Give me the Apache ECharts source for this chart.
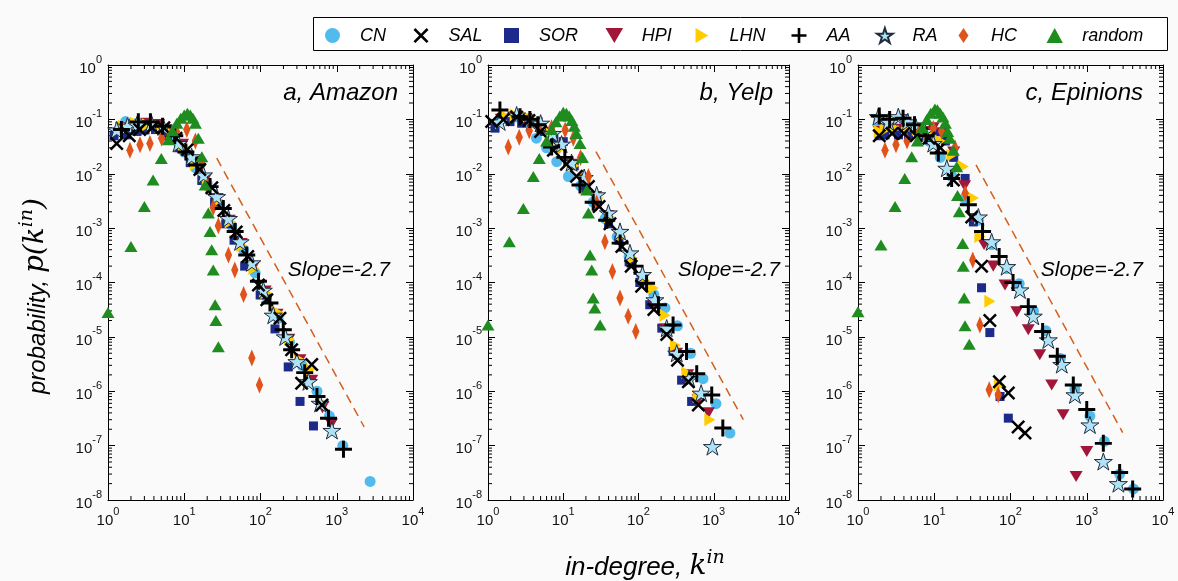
<!DOCTYPE html>
<html>
<head>
<meta charset="utf-8">
<script src="https://cdn.jsdelivr.net/npm/echarts@6/dist/echarts.min.js"></script>
<style>
  html, body { margin: 0; padding: 0; background: #fafafa; }
  #chart { width: 1178px; height: 581px; }
</style>
</head>
<body>
<div id="chart"></div>
<script>
// ---- data: [in-degree, probability] ----
const amazonCN = [[1.7,0.091],[2.4,0.085],[3.5,0.08],[5,0.07],[7,0.045],[10,0.025],[14,0.013],[20,0.0065],[29,0.0028],[42,1.1e-3],[60,4e-4],[85,1.5e-4],[120,5.5e-5],[170,2.2e-5],[240,8e-6],[350,3e-6],[550,1e-6],[800,3.5e-7],[1200,1e-7],[2740,2.2e-8]];
const amazonSAL = [[1.3,0.036],[1.9,0.05],[2.6,0.065],[3.8,0.07],[5.4,0.07],[7.8,0.045],[11,0.028],[16,0.012],[23,0.0055],[33,2.1e-3],[48,8.5e-4],[68,3e-4],[94,9e-5],[121,4.8e-5],[180,2.2e-5],[256,5.8e-6],[346,1.4e-6],[470,3.1e-6],[640,5.6e-7]];
const amazonSOR = [[1.2,0.05],[1.76,0.052],[2.4,0.06],[3.06,0.064],[4.2,0.065],[6,0.05],[8.5,0.03],[12,0.016],[17,0.0075],[25,0.003],[35,1.2e-3],[45,6e-4],[62,2e-4],[99,5.9e-5],[155,1.4e-5],[231,2.8e-6],[330,6.5e-7],[495,2.3e-7]];
const amazonHPI = [[1.5,0.07],[2.2,0.08],[3.2,0.085],[4.6,0.08],[6.6,0.06],[9.5,0.035],[13.5,0.017],[19,0.008],[27,0.0035],[39,1.4e-3],[56,5.2e-4],[80,1.9e-4],[115,7e-5],[165,2.6e-5],[235,9e-6],[330,3.8e-6],[470,1.6e-6],[650,5e-7],[850,2.5e-7]];
const amazonLHN = [[1.6,0.075],[2.3,0.085],[3.3,0.08],[4.8,0.075],[6.8,0.055],[9.7,0.032],[14,0.015],[20,0.0072],[28,0.0032],[40,1.3e-3],[57,4.8e-4],[82,1.8e-4],[118,6.5e-5],[170,2.8e-5],[240,9e-6],[330,3.8e-6],[450,2.5e-6],[640,6e-7]];
const amazonAA = [[1.5,0.065],[2.5,0.09],[3.6,0.09],[5.2,0.075],[7.5,0.05],[10.5,0.025],[14.6,0.0145],[21.8,0.0058],[32.5,2.3e-3],[46.5,8.7e-4],[66,3.2e-4],[94,1.05e-4],[133,4.2e-5],[199,1.35e-5],[256,5.8e-6],[380,2.2e-6],[550,8e-7],[780,3.2e-7],[1225,8.6e-8]];
const amazonRA = [[1.3,0.064],[1.8,0.075],[2.4,0.079],[3.7,0.085],[5.3,0.073],[8.4,0.036],[12.5,0.0205],[17.9,0.0095],[26.6,0.0038],[38,1.5e-3],[54,5.6e-4],[77,2.3e-4],[109,7.2e-5],[147,2.5e-5],[211,1e-5],[300,3.5e-6],[425,1.5e-6],[605,6e-7],[864,1.9e-7]];
const amazonHC = [[1.94,0.027],[2.63,0.034],[3.55,0.036],[5.05,0.045],[7.9,0.06],[10.8,0.065],[14,0.04],[17,0.017],[20,0.0058],[24,2.4e-3],[28,1.1e-3],[38,3.2e-4],[46,1.7e-4],[60,6e-5],[77,4.1e-6],[97,1.3e-6]];
const amazonRandom = [[1,2.8e-5],[2,4.6e-4],[3,2.5e-3],[3.9,7.7e-3],[5,0.019],[6.2,0.042],[7,0.062],[8,0.085],[9,0.105],[10,0.12],[11,0.13],[12,0.12],[13,0.105],[14,0.085],[15.3,0.045],[17,0.0205],[18.8,6.2e-3],[20.7,1.9e-3],[21.8,8.7e-4],[22.9,4e-4],[24,1.7e-4],[25.4,3.9e-5],[26,2e-5],[28,6.6e-6]];

const yelpCN = [[1.5,0.1],[2.3,0.11],[3.2,0.09],[4.4,0.045],[6,0.03],[8.2,0.0167],[11.7,0.0089],[17,0.006],[25,3e-3],[36,1.5e-3],[52,7e-4],[75,3e-4],[110,1.3e-4],[160,6e-5],[225,3.4e-5],[330,1.6e-5],[494,5e-6],[720,1.7e-6],[1070,5.9e-7],[1640,1.7e-7]];
const yelpSAL = [[1.12,0.091],[1.6,0.1],[2.4,0.11],[3.5,0.095],[5,0.06],[7.4,0.027],[11,0.015],[15,0.009],[21.6,0.0058],[30,2.5e-3],[41.8,1.2e-3],[60,4.6e-4],[80,2e-4],[110,8.5e-5],[160,3.2e-5],[237,1.1e-5],[330,3.7e-6],[460,1.5e-6],[624,5.6e-7]];
const yelpSOR = [[1.24,0.069],[1.96,0.091],[2.8,0.085],[4.6,0.09],[5.6,0.06],[7.5,0.045],[10,0.039],[14,0.014],[20,0.006],[28,0.0028],[40,1.2e-3],[55,6e-4],[75,2.4e-4],[104,1e-4],[141,3.9e-5],[204,1.45e-5],[288,5.4e-6],[374,1.6e-6],[508,6.5e-7]];
const yelpHPI = [[1.5,0.1],[2.2,0.11],[3.1,0.1],[4.4,0.085],[6.3,0.05],[9,0.03],[13,0.015],[19,0.008],[27,3.8e-3],[39,1.7e-3],[55,7.5e-4],[79,3e-4],[113,1.1e-4],[160,4e-5],[230,1.4e-5],[320,5e-6],[450,2e-6],[620,7e-7],[850,4e-7]];
const yelpLHN = [[1.6,0.12],[2.3,0.12],[3.3,0.11],[4.7,0.09],[6.7,0.055],[9.6,0.03],[14,0.014],[20,0.0075],[29,3.6e-3],[41,1.6e-3],[59,7e-4],[84,2.8e-4],[120,1.1e-4],[157,7.9e-5],[225,2.5e-5],[310,7e-6],[440,2.2e-6],[620,8e-7],[888,3e-7]];
const yelpAA = [[1.44,0.149],[2.66,0.112],[3.6,0.1],[4.6,0.08],[7,0.031],[10.5,0.02],[16.7,6.2e-3],[25,3e-3],[37.8,1.4e-3],[57,5.3e-4],[90,2e-4],[128,9.7e-5],[184,3.9e-5],[288,1.66e-5],[435,5.4e-6],[594,2.1e-6],[940,8.5e-7],[1320,2.1e-7]];
const yelpRA = [[1.43,0.09],[2.4,0.12],[3.8,0.09],[5,0.085],[7.2,0.055],[9.5,0.035],[12.9,0.016],[19,0.0085],[27.8,4.1e-3],[39.8,1.9e-3],[56.8,8.7e-4],[77,3.5e-4],[113,1.4e-4],[165,4.8e-5],[237,1.45e-5],[322,5e-6],[471,1.7e-6],[680,9.2e-7],[960,9.6e-8]];
const yelpHC = [[1.86,0.031],[2.6,0.047],[3.54,0.062],[4.66,0.072],[7,0.07],[10.6,0.064],[13.6,0.045],[17,0.02],[21.6,0.0089],[27.8,2.9e-3],[35.8,5.6e-4],[45,1.6e-4],[56.8,5.2e-5],[73,2.4e-5],[92,1.25e-5]];
const yelpRandom = [[1,1.66e-5],[1.92,5.6e-4],[2.95,2.3e-3],[4,8.9e-3],[4.8,0.019],[6,0.04],[7,0.065],[8,0.09],[9,0.115],[10,0.135],[11,0.13],[12,0.115],[13,0.095],[14,0.075],[15,0.055],[16.7,0.036],[18,0.02],[20.5,5e-3],[21.6,1.9e-3],[22.7,3.2e-4],[23.9,1.7e-4],[25,5.2e-5],[26.3,3.4e-5],[30.9,1.66e-5]];

const epinionsCN = [[1.85,0.09],[2.8,0.085],[4,0.08],[5.8,0.07],[8.5,0.04],[12,0.02],[17,0.009],[25,3.5e-3],[38,1.4e-3],[57,5e-4],[90,1.8e-4],[130,9.5e-5],[200,3e-5],[290,1.3e-5],[450,4e-6],[700,1.1e-6],[1100,3.5e-7],[1700,1.2e-7],[2700,3e-8],[4100,1.6e-8]];
const epinionsSAL = [[1.9,0.05],[2.8,0.055],[4,0.055],[5.8,0.05],[8.5,0.045],[12,0.03],[17.8,7.7e-3],[31,1.6e-3],[41.7,2e-4],[53.6,2e-5],[71.5,1.5e-6],[93.6,9.3e-7],[126,2.2e-7],[155,1.7e-7]];
const epinionsSOR = [[1.9,0.05],[2.26,0.052],[3.4,0.052],[4.6,0.05],[6.5,0.05],[10.8,0.059],[14,0.04],[18,0.02],[25.4,8.2e-3],[32.6,1.3e-3],[41.7,8e-5],[53.6,1.2e-5],[72.9,8e-7],[93.6,3.2e-7]];
const epinionsHPI = [[1.9,0.06],[2.8,0.065],[4,0.065],[5.8,0.06],[8.5,0.06],[9.7,0.07],[13,0.055],[18,0.025],[25,6e-3],[33,1.5e-3],[45,5e-4],[59.4,2e-4],[84.7,9e-5],[121,2.9e-5],[171,1.35e-5],[242,4.7e-6],[347,1.3e-6],[490,3.7e-7],[725,2.7e-8],[1000,7.8e-8]];
const epinionsLHN = [[1.9,0.06],[2.26,0.064],[3.1,0.069],[4.35,0.069],[6,0.065],[8.5,0.055],[12,0.04],[17,0.022],[24,0.0136],[32.6,3.6e-3],[39.7,7e-4],[53.6,4.5e-5],[71.5,1.3e-6]];
const epinionsAA = [[1.9,0.115],[2.6,0.1],[3.9,0.105],[5.5,0.08],[7.8,0.05],[11.3,0.024],[16.9,0.0082],[28,2.7e-3],[43,8.7e-4],[71,3e-4],[108,1e-4],[171,3.6e-5],[264,1.25e-5],[411,4.4e-6],[666,1.3e-6],[1000,4.6e-7],[1650,1.1e-7],[2700,3.2e-8],[4000,1.6e-8]];
const epinionsRA = [[1.85,0.112],[2.5,0.09],[3.38,0.112],[4.5,0.09],[5.6,0.079],[7.5,0.06],[9.7,0.036],[14.6,0.0126],[37.9,1.6e-3],[56.6,5.6e-4],[89,1.96e-4],[133,7.3e-5],[199,2.4e-5],[313,8.8e-6],[470,3.1e-6],[700,8.6e-7],[1100,2.4e-7],[1650,5.1e-8],[2600,2e-8]];
const epinionsHC = [[2.26,0.027],[3.15,0.034],[4.4,0.04],[6.2,0.055],[9.7,0.068],[12.5,0.06],[18.7,0.03],[25.4,4.4e-3],[32,2.6e-4],[39.7,1.66e-5],[52.6,1.07e-6],[69,8.6e-7]];
const epinionsRandom = [[1,2.9e-5],[2,4.9e-4],[3.06,2.5e-3],[4.1,8.2e-3],[5.06,0.0205],[6,0.04],[7,0.07],[8,0.1],[9,0.13],[10.2,0.155],[11,0.15],[12,0.13],[13,0.11],[14,0.085],[15,0.06],[16,0.045],[17.8,0.027],[19.7,0.0135],[20.2,4e-3],[21.3,2e-3],[23.6,5.2e-4],[24,2e-4],[24.7,5.2e-5],[25.3,1.6e-5],[28.8,7.3e-6]];

// guide lines (slope -2.7), end points
const slopeAmazon = [[26.7,0.0193],[2290,2.2e-7]];
const slopeYelp = [[27.2,0.0256],[2470,3e-7]];
const slopeEpinions = [[35.3,0.0145],[2960,1.74e-7]];

const panelNames = ['a, Amazon', 'b, Yelp', 'c, Epinions'];
const methods = ['CN','SAL','SOR','HPI','LHN','AA','RA','HC','random'];

// minor tick positions of the log axes
const minorX = [2,3,4,5,6,7,8,9,20,30,40,50,60,70,80,90,200,300,400,500,600,700,800,900,2000,3000,4000,5000,6000,7000,8000,9000];
const minorY = [2e-8,3e-8,4e-8,5e-8,6e-8,7e-8,8e-8,9e-8,2e-7,3e-7,4e-7,5e-7,6e-7,7e-7,8e-7,9e-7,2e-6,3e-6,4e-6,5e-6,6e-6,7e-6,8e-6,9e-6,2e-5,3e-5,4e-5,5e-5,6e-5,7e-5,8e-5,9e-5,2e-4,3e-4,4e-4,5e-4,6e-4,7e-4,8e-4,9e-4,0.002,0.003,0.004,0.005,0.006,0.007,0.008,0.009,0.02,0.03,0.04,0.05,0.06,0.07,0.08,0.09,0.2,0.3,0.4,0.5,0.6,0.7,0.8,0.9];

const panels = [
  {CN: amazonCN, SAL: amazonSAL, SOR: amazonSOR, HPI: amazonHPI, LHN: amazonLHN, AA: amazonAA, RA: amazonRA, HC: amazonHC, random: amazonRandom, slope: slopeAmazon},
  {CN: yelpCN, SAL: yelpSAL, SOR: yelpSOR, HPI: yelpHPI, LHN: yelpLHN, AA: yelpAA, RA: yelpRA, HC: yelpHC, random: yelpRandom, slope: slopeYelp},
  {CN: epinionsCN, SAL: epinionsSAL, SOR: epinionsSOR, HPI: epinionsHPI, LHN: epinionsLHN, AA: epinionsAA, RA: epinionsRA, HC: epinionsHC, random: epinionsRandom, slope: slopeEpinions}
];

const FONT = '"Liberation Sans", Arial, Helvetica, sans-serif';
const SERIF = '"DejaVu Serif", "Liberation Serif", serif';

const STAR = 'path://M10,0 L12.245,6.91 L19.51,6.91 L13.63,11.18 L15.88,18.09 L10,13.82 L4.12,18.09 L6.37,11.18 L0.49,6.91 L7.755,6.91 Z';
const CROSS = 'path://M2.5,0 L10,7.5 L17.5,0 L20,2.5 L12.5,10 L20,17.5 L17.5,20 L10,12.5 L2.5,20 L0,17.5 L7.5,10 L0,2.5 Z';
const PLUS = 'path://M8.25,0 H11.75 V8.25 H20 V11.75 H11.75 V20 H8.25 V11.75 H0 V8.25 H8.25 Z';
const SQUARE = 'path://M0,0 H10 V10 H0 Z';
const DIAMOND = 'path://M5,0 L10,7.5 L5,15 L0,7.5 Z';
const TRI_UP = 'path://M6,0 L12,11 L0,11 Z';
const TRI_DOWN = 'path://M0,0 L20,0 L10,17 Z';
const TRI_RIGHT = 'path://M0,0 L17,10 L0,20 Z';

const look = {
  CN:     {symbol: 'circle', symbolSize: 11, itemStyle: {color: '#52bbee', opacity: 1}},
  SAL:    {symbol: CROSS, symbolSize: 14, itemStyle: {color: '#000', opacity: 1}},
  SOR:    {symbol: SQUARE, symbolSize: 9, itemStyle: {color: '#1c2a8c', opacity: 1}},
  HPI:    {symbol: TRI_DOWN, symbolSize: 13, itemStyle: {color: '#a2163a', opacity: 1}},
  LHN:    {symbol: TRI_RIGHT, symbolSize: 13, itemStyle: {color: '#ffcc00', opacity: 1}},
  AA:     {symbol: PLUS, symbolSize: 17, itemStyle: {color: '#000', opacity: 1}},
  RA:     {symbol: STAR, symbolSize: 18, itemStyle: {color: '#aee2f6', borderColor: '#1f2d3d', borderWidth: 1, opacity: 1}},
  HC:     {symbol: DIAMOND, symbolSize: [11, 17], itemStyle: {color: '#e0541c', opacity: 1}},
  random: {symbol: TRI_UP, symbolSize: [13, 12], itemStyle: {color: '#1e8c1e', opacity: 1}}
};
// drawing order (later on top)
const drawOrder = ['CN','SOR','HPI','LHN','RA','HC','SAL','AA','random'];

const grids = [
  {left: 108, top: 65, width: 305, height: 435},
  {left: 488, top: 65, width: 301, height: 435},
  {left: 858, top: 65, width: 305, height: 435}
];

const labelRich = {
  b: {fontFamily: FONT, fontSize: 15, color: '#111', lineHeight: 22, verticalAlign: 'bottom'},
  s: {fontFamily: FONT, fontSize: 11, color: '#111', lineHeight: 11, verticalAlign: 'top'}
};
const powLabel = v => '{b|10}{s|' + Math.round(Math.log10(v)) + '}';

const xAxes = [], yAxes = [], series = [];
grids.forEach((g, i) => {
  const common = {
    gridIndex: i, type: 'log', logBase: 10,
    axisLine: {lineStyle: {color: '#000', width: 1}},
    axisTick: {inside: true, length: 7, lineStyle: {color: '#000'}},
    splitLine: {show: false}
  };
  xAxes.push(Object.assign({}, common, {
    position: 'bottom', min: 1, max: 10000, splitNumber: 4,
    axisLabel: {formatter: powLabel, rich: labelRich, margin: 6}
  }));
  xAxes.push(Object.assign({}, common, {position: 'top', min: 1, max: 10000, splitNumber: 4, axisLabel: {show: false}}));
  yAxes.push(Object.assign({}, common, {
    position: 'left', min: 1e-8, max: 1, splitNumber: 8,
    axisLabel: {formatter: powLabel, rich: labelRich, margin: 6}
  }));
  yAxes.push(Object.assign({}, common, {position: 'right', min: 1e-8, max: 1, splitNumber: 8, axisLabel: {show: false}}));

  const xi = i * 2, yi = i * 2;
  // minor ticks on all four sides
  series.push({
    type: 'custom', xAxisIndex: xi, yAxisIndex: yi, silent: true,
    data: minorX.map(v => [v, 1e-4]),
    renderItem: (params, api) => {
      const b = api.coord([api.value(0), 1e-8]);
      const t = api.coord([api.value(0), 1]);
      const st = {stroke: '#000', lineWidth: 1};
      return {type: 'group', children: [
        {type: 'line', shape: {x1: b[0], y1: b[1], x2: b[0], y2: b[1] - 4}, style: st},
        {type: 'line', shape: {x1: t[0], y1: t[1], x2: t[0], y2: t[1] + 4}, style: st}
      ]};
    }
  });
  series.push({
    type: 'custom', xAxisIndex: xi, yAxisIndex: yi, silent: true,
    data: minorY.map(v => [10, v]),
    renderItem: (params, api) => {
      const l = api.coord([1, api.value(1)]);
      const r = api.coord([10000, api.value(1)]);
      const st = {stroke: '#000', lineWidth: 1};
      return {type: 'group', children: [
        {type: 'line', shape: {x1: l[0], y1: l[1], x2: l[0] + 4, y2: l[1]}, style: st},
        {type: 'line', shape: {x1: r[0], y1: r[1], x2: r[0] - 4, y2: r[1]}, style: st}
      ]};
    }
  });
  // slope guide
  series.push({
    type: 'line', xAxisIndex: xi, yAxisIndex: yi, data: panels[i].slope,
    symbol: 'none', silent: true,
    lineStyle: {color: '#d2601a', width: 1.5, type: [9, 6]}
  });
  drawOrder.forEach(m => {
    series.push(Object.assign({
      name: m, type: 'scatter', xAxisIndex: xi, yAxisIndex: yi,
      symbolKeepAspect: true, data: panels[i][m]
    }, look[m]));
  });
});

// one legend per entry so every item sits where it does in the figure
const legendIconX = [347.5, 436, 526.5, 628, 718, 814, 898.5, 981, 1069];
const legends = methods.map((m, k) => ({
  data: [m],
  left: legendIconX[k] - 22.5, top: 26.5,
  padding: 0,
  itemWidth: 45, itemHeight: 15,
  textStyle: {fontFamily: FONT, fontStyle: 'italic', fontSize: 18, color: '#000'},
  selectedMode: false
}));

const graphics = [{
  type: 'rect', z: -1, shape: {x: 313.5, y: 17.5, width: 854, height: 33},
  style: {fill: '#fff', stroke: '#000', lineWidth: 1}
}];
const labelX = [398, 773, 1143];
const slopeX = [390, 780, 1143];
panelNames.forEach((name, i) => {
  graphics.push({type: 'text', x: labelX[i], y: 93, style: {text: name, font: 'italic 24px ' + FONT, fill: '#000', align: 'right', verticalAlign: 'middle'}});
  graphics.push({type: 'text', x: slopeX[i], y: 270, style: {text: 'Slope=-2.7', font: 'italic 21px ' + FONT, fill: '#000', align: 'right', verticalAlign: 'middle'}});
});
const titleRich = {
  a: {fontFamily: FONT, fontStyle: 'italic', fontSize: 24, color: '#000', lineHeight: 32, verticalAlign: 'bottom'},
  m: {fontFamily: SERIF, fontStyle: 'italic', fontSize: 28, color: '#000', lineHeight: 32, verticalAlign: 'bottom'},
  s: {fontFamily: SERIF, fontStyle: 'italic', fontSize: 19, color: '#000', lineHeight: 16, verticalAlign: 'top'}
};
const xTitleRich = Object.assign({}, titleRich, {
  a: Object.assign({}, titleRich.a, {fontSize: 26})
});
graphics.push({
  type: 'text', x: 34, y: 296, rotation: Math.PI / 2,
  style: {text: '{a|probability, }{m|p(k}{s|in}{m|)}', rich: titleRich, align: 'center', verticalAlign: 'middle'}
});
graphics.push({
  type: 'text', x: 645, y: 565,
  style: {text: '{a|in-degree, }{m|k}{s|in}', rich: xTitleRich, align: 'center', verticalAlign: 'middle'}
});

const chart = echarts.init(document.getElementById('chart'), null, {renderer: 'canvas'});
chart.setOption({
  animation: false,
  backgroundColor: '#fafafa',
  grid: grids.map(g => Object.assign({outerBoundsMode: 'none', containLabel: false}, g)),
  xAxis: xAxes,
  yAxis: yAxes,
  legend: legends,
  graphic: graphics,
  series: series
});
</script>
</body>
</html>
